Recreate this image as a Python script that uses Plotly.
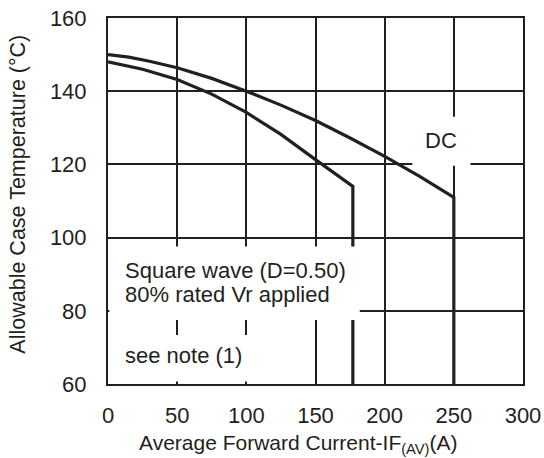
import plotly.graph_objects as go

# Data
dc_x = [0, 15, 30, 50, 75, 100, 125, 150, 175, 200, 225, 250, 250]
dc_y = [150, 149.3, 148.2, 146.4, 143.5, 140, 136.2, 132, 127.2, 122.2, 116.8, 111, 60]

sq_x = [0, 25, 50, 75, 100, 125, 150, 177, 177]
sq_y = [148, 146, 143.2, 139.2, 134.2, 128.2, 121.3, 114, 60]

x_ticks = [0, 50, 100, 150, 200, 250, 300]
y_ticks = [60, 80, 100, 120, 140, 160]

INK = "#231f20"
FONT = "Liberation Sans, Arial, sans-serif"

fig = go.Figure()
fig.add_trace(go.Scatter(x=dc_x, y=dc_y, mode="lines", line=dict(color=INK, width=3.2),
                         showlegend=False, hoverinfo="skip"))
fig.add_trace(go.Scatter(x=sq_x, y=sq_y, mode="lines", line=dict(color=INK, width=3.2),
                         showlegend=False, hoverinfo="skip"))

# white label boxes (cover grid and curves, as in the reference)
boxes = [
    (1, 182, 77.5, 97.6),
    (1, 135, 60.7, 73.4),
    (220, 262, 119.6, 133),
]
for x0, x1, y0, y1 in boxes:
    fig.add_shape(type="rect", xref="x", yref="y", x0=x0, x1=x1, y0=y0, y1=y1,
                  fillcolor="white", line=dict(width=0), layer="above")

ann_font = dict(family=FONT, size=22, color=INK)
fig.add_annotation(x=10.6, y=91.0, text="Square wave (D=0.50)", xanchor="left", yanchor="middle",
                   showarrow=False, font=ann_font)
fig.add_annotation(x=10.6, y=84.5, text="80% rated Vr applied", xanchor="left", yanchor="middle",
                   showarrow=False, font=ann_font)
fig.add_annotation(x=10.6, y=67.7, text="see note (1)", xanchor="left", yanchor="middle",
                   showarrow=False, font=ann_font)
fig.add_annotation(x=241, y=126.6, text="DC", xanchor="center", yanchor="middle",
                   showarrow=False, font=dict(family=FONT, size=22, color=INK))

# axis titles
fig.add_annotation(xref="paper", yref="paper", x=0.458, y=-0.163, xanchor="center", yanchor="middle",
                   text="Average Forward Current-I<span style='font-size:21px'>F</span><sub>(AV)</sub>(A)",
                   showarrow=False, font=dict(family=FONT, size=21, color=INK))
fig.add_annotation(xref="paper", yref="paper", x=-0.217, y=0.52, xanchor="center", yanchor="middle",
                   textangle=-90, text="Allowable Case Temperature (°C)",
                   showarrow=False, font=dict(family=FONT, size=21.5, color=INK))

fig.update_xaxes(range=[0, 300], tickvals=x_ticks, ticktext=[str(v) for v in x_ticks],
                 showgrid=True, gridcolor=INK, gridwidth=1.5, zeroline=False,
                 showline=True, linecolor=INK, linewidth=2, mirror=True, ticks="",
                 ticklabelstandoff=11, automargin=False,
                 tickfont=dict(family=FONT, size=22, color=INK))
fig.update_yaxes(range=[60, 160], tickvals=y_ticks, ticktext=[str(v) for v in y_ticks],
                 showgrid=True, gridcolor=INK, gridwidth=1.5, zeroline=False,
                 showline=True, linecolor=INK, linewidth=2, mirror=True, ticks="",
                 ticklabelstandoff=15, automargin=False,
                 tickfont=dict(family=FONT, size=22, color=INK))

fig.update_layout(width=544, height=458, margin=dict(l=108, r=21, t=18, b=74),
                  plot_bgcolor="white", paper_bgcolor="white")

fig.write_html("out.html", config={"displayModeBar": False},
               post_script="document.body.style.margin='0';")
